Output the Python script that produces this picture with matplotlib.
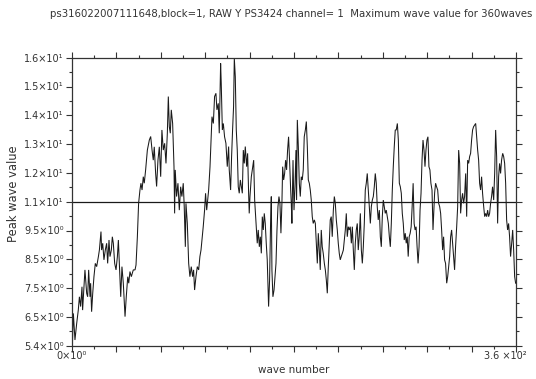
import numpy as np
import matplotlib
matplotlib.use("Agg")
import matplotlib.pyplot as plt
from matplotlib.ticker import FixedLocator, MultipleLocator, NullFormatter

title = "ps316022007111648,block=1, RAW Y PS3424 channel= 1  Maximum wave value for 360waves"
x_label = "wave number"
y_label = "Peak wave value"

# readings (wave number, peak value)
wave = [0.3, 1.1, 2.4, 3.8, 5.1, 6.0, 7.0, 8.1, 8.6, 9.2, 10.0, 10.5, 11.9, 12.7, 13.5, 14.6, 15.1, 15.9,
        16.8, 17.8, 18.9, 20.0, 21.4, 22.2, 23.5, 24.0, 24.9, 25.9, 27.0, 28.1, 28.9, 30.0, 30.8, 31.9,
        32.7, 33.5, 34.6, 35.7, 36.8, 37.6, 38.4, 39.5, 40.5, 41.6, 43.0, 44.0, 45.2, 46.0, 47.0, 48.1,
        49.7, 51.1, 51.9, 53.0, 54.0, 55.1, 55.9, 56.8, 57.8, 58.6, 59.7, 61.1, 62.7, 63.8, 64.9, 65.9,
        66.7, 67.8, 68.6, 69.7, 70.8,
        71.9, 72.9, 74.0, 75.1, 76.2, 77.3, 78.1, 78.9, 79.7, 80.5, 81.6, 82.7, 83.2, 83.7, 84.8, 85.9,
        87.0, 88.1, 89.1, 90.2, 91.0, 91.9, 92.4, 93.5, 94.6, 95.6, 96.7, 97.8, 98.6, 99.4, 100.5, 101.6,
        102.7, 103.7, 104.6, 105.6, 106.4, 107.5, 108.3, 109.2, 110.0, 110.8, 111.9, 112.9, 113.5, 114.6,
        115.6, 116.7, 117.5, 118.6, 119.4, 120.5, 121.0, 121.9, 122.7, 123.7, 124.8, 125.9, 127.0, 127.5,
        128.6, 129.4, 130.2, 131.0, 131.6, 132.4, 133.2, 134.0, 134.8, 135.6, 136.5, 137.3, 138.1, 138.9,
        139.7, 140.5, 141.6, 142.4, 143.2, 143.7, 144.3, 145.4, 146.5, 147.3, 148.1, 149.2, 150.2, 151.0,
        151.9, 152.7, 153.5, 154.3, 155.1, 155.9, 156.7, 157.5, 158.3, 158.9, 159.4, 160.2, 161.0, 161.6,
        162.1, 162.9, 163.8, 164.6, 165.4, 166.2, 167.0, 167.8, 168.6,
        169.4, 170.2, 170.8, 171.6, 172.4, 173.2, 174.0, 174.8, 175.6, 176.4, 177.3, 177.8, 178.3, 179.2,
        180.0, 180.8, 181.6, 182.1, 182.7, 183.5, 184.3, 185.1, 185.9, 186.7, 187.5, 188.3, 189.2, 190.0,
        190.8, 191.6, 192.4, 193.2, 194.0, 194.8, 195.6, 196.5, 197.3, 198.1, 198.9, 199.7, 200.5, 201.3,
        202.1, 202.9, 203.7, 204.6, 205.4, 206.2, 207.0, 207.8, 208.6, 209.4, 210.2, 211.0, 211.9, 212.7,
        213.5, 214.3, 215.1, 215.9, 216.7, 217.5, 218.3, 219.2, 220.0, 220.8, 221.6, 222.4, 223.2, 224.0,
        224.8, 225.6, 226.5, 227.3, 228.1, 228.9, 229.7, 230.5, 231.3, 232.1, 232.9, 233.8, 234.6, 235.4,
        236.2, 237.0, 237.8, 238.6, 239.4, 240.2, 241.0, 241.9, 242.7, 243.5, 244.3, 245.1, 245.9, 246.7,
        247.5, 248.3, 249.2, 250.0, 250.8, 251.6, 252.4, 253.2, 254.0, 254.8, 255.6, 256.5, 257.3, 258.1,
        258.9, 259.7, 260.5, 261.3, 262.1, 262.9, 263.8, 264.6, 265.4,
        266.2, 267.0, 267.8, 268.6, 269.4, 270.2, 271.0, 271.8, 272.6, 273.4, 274.2, 275.0, 275.8, 276.6,
        277.4, 278.2, 279.0, 279.8, 280.6, 281.4, 282.2, 283.0, 283.8, 284.6, 285.4, 286.2, 287.0, 287.8,
        288.6, 289.4, 290.2, 291.0, 291.9, 292.7, 294.0, 294.8, 295.6, 296.5, 297.3, 298.1, 298.9,
        299.7, 300.5, 301.3, 302.1, 302.9, 303.8, 304.6, 305.4, 306.2, 307.0, 307.8, 308.6, 309.4, 310.2,
        311.0, 311.9, 312.7, 313.5, 314.3, 315.1, 315.9, 316.7, 317.5, 318.3, 319.2, 320.0, 320.8, 321.6,
        322.4, 323.2, 324.0, 324.8, 325.6, 326.5, 327.3, 328.1, 328.9, 329.7, 330.5, 331.3, 332.1, 332.9,
        333.8, 334.6, 335.4, 336.2, 337.0, 337.8, 338.6, 339.4, 340.2, 341.0, 341.9, 342.7, 343.5, 344.3,
        345.1, 345.9, 346.7, 347.5, 348.3, 349.2, 350.0, 350.8, 351.6, 352.4, 353.2, 354.0, 354.8, 355.6,
        356.5, 357.3, 358.1, 358.9, 359.7]

peak = [5.43, 6.59, 5.61, 6.22, 6.71, 7.20, 6.84, 7.57, 6.71, 7.20, 7.82, 8.19, 7.33, 7.20, 8.19, 7.20, 7.70, 6.65,
        7.33, 7.94, 8.43, 8.31, 8.68, 8.92, 9.60, 8.92, 9.17, 8.56, 8.92, 9.17, 8.43, 9.29, 8.68, 8.92,
        9.41, 9.17, 8.43, 8.19, 8.68, 9.29, 8.43, 7.20, 8.31, 7.70, 6.47, 7.20, 7.94, 7.70, 8.13, 7.94,
        8.19, 8.19, 8.37, 9.41, 10.64, 11.13, 11.38, 11.13, 11.62, 11.38, 11.87, 12.60, 12.97, 13.10, 12.60, 12.23,
        12.72, 11.75, 11.26, 12.23, 12.72,
        11.62, 13.34, 12.60, 12.85, 12.11, 13.22, 14.57, 13.46, 13.22, 14.08, 13.58, 11.99, 10.27, 11.87, 10.89, 11.38,
        10.39, 11.25, 10.89, 11.38, 10.52, 9.04, 10.64, 9.90, 8.43, 7.94, 8.31, 7.94, 8.19, 7.45, 7.94, 8.31,
        8.19, 8.68, 8.92, 9.41, 9.78, 10.39, 11.01, 10.39, 10.76, 11.13, 11.99, 13.09, 13.83, 13.58,
        14.57, 14.69, 14.08, 14.32, 13.22, 15.79, 15.06, 13.34, 13.58, 13.09, 12.85, 11.99, 12.73, 11.87,
        11.13, 12.36, 13.34, 14.20, 15.98, 15.30, 13.34, 12.60, 11.25, 11.01, 11.50, 11.25, 11.01, 12.60,
        12.11, 12.73, 11.99, 12.48, 11.01, 10.27, 10.89, 11.62, 11.99, 12.23, 10.76, 9.90, 9.17, 9.66,
        9.04, 9.41, 8.80, 10.15, 9.66, 10.27, 9.90, 9.17, 8.56, 7.57, 6.84, 7.82, 9.90, 10.89,
        8.19, 7.20, 7.45, 7.94, 8.43, 9.66, 10.52, 10.89, 10.64,
        9.54, 10.64, 11.99, 11.50, 11.74, 12.23, 11.87, 12.60, 13.09, 12.23, 11.13, 10.64, 9.90, 12.23,
        10.39, 11.25, 12.60, 10.76, 13.71, 12.73, 11.38, 10.89, 11.62, 11.50, 11.87, 13.09, 13.34, 13.65,
        12.73, 11.50, 11.38, 11.13, 10.76, 10.15, 9.90, 10.03, 9.90, 9.17, 8.43, 9.54, 8.92, 8.19,
        9.66, 9.04, 8.80, 8.43, 8.19, 7.82, 7.33, 8.31, 9.17, 10.03, 10.15, 9.41, 10.39, 10.89,
        10.64, 10.03, 9.66, 9.17, 8.80, 8.56, 8.68, 8.80, 8.92, 9.29, 9.66, 10.27, 9.41, 9.78,
        9.66, 9.78, 9.17, 9.78, 8.92, 8.19, 9.17, 9.66, 9.90, 8.92, 9.41, 10.27, 8.92, 8.43,
        9.04, 9.90, 11.13, 11.38, 11.74, 11.13, 10.52, 9.90, 10.52, 10.76, 10.89, 11.25, 11.74, 11.38,
        10.52, 10.03, 10.39, 9.41, 9.04, 10.15, 10.76, 10.52, 10.27, 10.39, 10.15, 9.90, 9.41, 9.04,
        9.90, 11.13, 11.99, 12.73, 13.34, 13.34, 13.58, 12.97, 11.38,
        11.25, 11.01, 10.27, 9.90, 9.29, 9.54, 9.17, 9.41, 8.68, 9.41, 9.54, 9.78, 10.52, 11.38,
        9.90, 9.66, 9.78, 9.04, 8.43, 9.04, 10.39, 11.01, 12.23, 12.97, 12.60, 11.99, 12.60, 12.97,
        13.09, 11.99, 11.87, 11.38, 11.13, 9.66, 11.01, 11.38, 11.25, 11.13, 10.64, 10.52, 10.27, 9.66,
        8.92, 9.41, 8.56, 8.43, 7.70, 7.94, 8.31, 8.68, 9.41, 9.66, 9.17, 8.68, 8.19, 9.04,
        9.78, 10.52, 12.60, 12.11, 10.27, 10.76, 11.01, 10.64, 10.89, 11.74, 10.15, 12.23, 12.11, 12.36,
        12.48, 12.97, 13.34, 13.46, 13.52, 13.58, 13.09, 12.60, 12.23, 11.38, 11.13, 11.62, 11.01, 10.52,
        10.15, 10.27, 10.15, 10.39, 10.15, 10.27, 10.64, 10.89, 11.25, 10.76, 11.74, 13.34, 12.36, 9.90,
        11.62, 12.11, 11.74, 12.23, 12.48, 12.36, 12.11, 11.38, 10.03, 9.66, 9.90, 9.41, 8.68, 9.17,
        9.66, 8.92, 7.94, 7.70]

y_min, y_max = 5.4, 16.0
y_tick_labels = ["5.4×10⁰", "6.5×10⁰", "7.5×10⁰", "8.5×10⁰", "9.5×10⁰", "1.1×10¹",
                 "1.2×10¹", "1.3×10¹", "1.4×10¹", "1.5×10¹", "1.6×10¹"]
x_min, x_max = 0, 360
x_first_label = "0×10⁰"
x_last_label = "3.6 ×10²"
ref_level = 10.7

W, H = 536, 379
fig = plt.figure(figsize=(W / 100, H / 100), dpi=100)
ax = fig.add_axes([72 / W, 1 - 345.7 / H, (516 - 72) / W, (345.7 - 57.7) / H])

ink = "#1a1a1a"
txt = "#333333"
ax.plot(wave, peak, color=ink, lw=0.75, solid_joinstyle="miter")
ax.axhline(ref_level, color=ink, lw=0.9)

ax.set_xlim(x_min, x_max)
ax.set_ylim(y_min, y_max)

yt = np.linspace(y_min, y_max, len(y_tick_labels))
ax.yaxis.set_major_locator(FixedLocator(yt))
ax.set_yticklabels(y_tick_labels)
ax.yaxis.set_minor_locator(FixedLocator((yt[:-1] + yt[1:]) / 2))
ax.xaxis.set_major_locator(MultipleLocator(36))
ax.xaxis.set_minor_locator(MultipleLocator(18))
ax.xaxis.set_major_formatter(NullFormatter())

ax.tick_params(which="both", direction="out", top=True, right=True, color=txt,
               labelsize=7, labelcolor=txt, width=0.8, pad=2)
ax.tick_params(which="major", length=4)
ax.tick_params(which="minor", length=2)
for s in ax.spines.values():
    s.set_color(txt)
    s.set_linewidth(0.9)

# x end labels
ax.text(x_min, -0.035, x_first_label, transform=ax.get_xaxis_transform(),
        ha="center", va="center", fontsize=7, color=txt)
ax.annotate(x_last_label, xy=(x_max, 0), xycoords=ax.get_xaxis_transform(),
            xytext=(11, -10), textcoords="offset pixels", ha="right", va="center",
            fontsize=7, color=txt)

fig.text(50 / W, 1 - 14 / H, title, ha="left", va="center", fontsize=7.3, color=txt)
fig.text(294 / W, 1 - 370 / H, x_label, ha="center", va="center", fontsize=7.5, color=txt)
fig.text(13.5 / W, 1 - 194 / H, y_label, ha="center", va="center", rotation=90, fontsize=8.3, color=txt)

fig.savefig("out.png", dpi=100)
